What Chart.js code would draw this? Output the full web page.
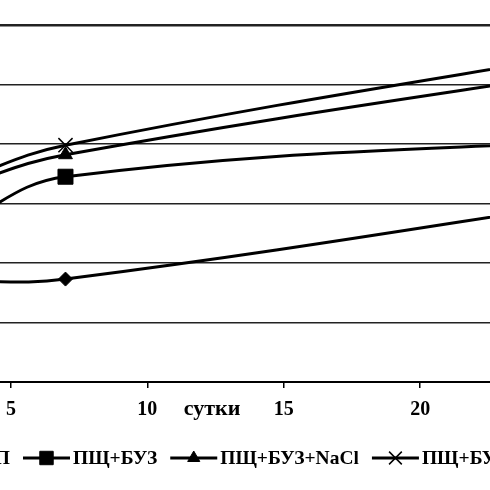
<!DOCTYPE html>
<html><head><meta charset="utf-8">
<script src="https://cdn.jsdelivr.net/npm/chart.js@4.4.0/dist/chart.umd.min.js"></script>
<style>html,body{margin:0;padding:0;background:#fff;overflow:hidden}#wrap{position:relative;width:490px;height:490px;background:#fff}</style>
</head><body><div id="wrap"><canvas id="c" width="490" height="490"></canvas></div>
<script>
// ---- data ----
const days = [3, 7, 30];
const seriesLabels = ['ПП', 'ПЩ+БУЗ', 'ПЩ+БУЗ+NaCl', 'ПЩ+БУЗ+KCl'];
const seriesPP = [16.9, 17.3, 32.9];
const seriesBUZ = [26.2, 34.5, 41.5];
const seriesNaCl = [32.7, 38.2, 55.0];
const seriesKCl = [33.6, 39.8, 58.3];
const xTicks = [5, 10, 15, 20];
const xTitle = 'сутки';

const FONT = 'Liberation Serif, Times New Roman, serif';
const styles = [
  {pointStyle: 'rectRot', r: 7, lr: 6.5, bw: 1},
  {pointStyle: 'rect', r: 10.6, lr: 9.5, bw: 1},
  {pointStyle: 'triangle', r: 8, lr: 7, bw: 1},
  {pointStyle: 'crossRot', r: 10, lr: 9, bw: 1.5}
];
const allSeries = [seriesPP, seriesBUZ, seriesNaCl, seriesKCl];

const datasets = allSeries.map((s, i) => ({
  label: seriesLabels[i],
  data: days.map((d, j) => ({x: d, y: s[j]})),
  borderColor: '#000',
  backgroundColor: '#000',
  borderWidth: 3,
  tension: 0.4,
  pointStyle: styles[i].pointStyle,
  pointRadius: styles[i].r,
  pointBorderWidth: styles[i].bw,
  pointBackgroundColor: '#000',
  pointBorderColor: '#000'
}));

function drawMarker(ctx, style, r, x, y, bw) {
  ctx.save();
  ctx.fillStyle = '#000'; ctx.strokeStyle = '#000'; ctx.lineWidth = bw;
  ctx.beginPath();
  if (style === 'rect') {
    const s = Math.SQRT1_2 * r;
    ctx.rect(x - s, y - s, 2 * s, 2 * s); ctx.fill(); ctx.stroke();
  } else if (style === 'rectRot') {
    ctx.moveTo(x - r, y); ctx.lineTo(x, y - r); ctx.lineTo(x + r, y); ctx.lineTo(x, y + r); ctx.closePath(); ctx.fill(); ctx.stroke();
  } else if (style === 'triangle') {
    for (let k = 0; k < 3; k++) {
      const a = k * 2 * Math.PI / 3;
      const px = x + Math.sin(a) * r, py = y - Math.cos(a) * r;
      if (k === 0) ctx.moveTo(px, py); else ctx.lineTo(px, py);
    }
    ctx.closePath(); ctx.fill(); ctx.stroke();
  } else if (style === 'crossRot') {
    const o = Math.SQRT1_2 * r;
    ctx.moveTo(x - o, y - o); ctx.lineTo(x + o, y + o);
    ctx.moveTo(x - o, y + o); ctx.lineTo(x + o, y - o); ctx.stroke();
  }
  ctx.restore();
}

const extras = {
  id: 'extras',
  afterDraw(chart) {
    const ctx = chart.ctx;
    const xs = chart.scales.x;
    ctx.save();
    // axis title
    ctx.font = 'bold 22px ' + FONT;
    ctx.fillStyle = '#000';
    ctx.textAlign = 'center';
    ctx.textBaseline = 'alphabetic';
    ctx.fillText(xTitle, xs.getPixelForValue(12.37), 415);
    // legend
    ctx.font = 'bold 19.5px ' + FONT;
    ctx.textAlign = 'left';
    const lineLen = 47, gapLT = 3, gapTL = 13, ly = 458, ty = 464;
    const w0 = ctx.measureText(seriesLabels[0]).width;
    let x = 23 - gapTL - w0 - gapLT - lineLen;
    seriesLabels.forEach((lab, i) => {
      ctx.strokeStyle = '#000'; ctx.lineWidth = 3;
      ctx.beginPath(); ctx.moveTo(x, ly); ctx.lineTo(x + lineLen, ly); ctx.stroke();
      drawMarker(ctx, styles[i].pointStyle, styles[i].lr, x + lineLen / 2, ly, styles[i].bw);
      ctx.fillStyle = '#000';
      ctx.fillText(lab, x + lineLen + gapLT, ty);
      x += lineLen + gapLT + ctx.measureText(lab).width + gapTL;
    });
    ctx.restore();
  }
};

new Chart(document.getElementById('c'), {
  type: 'line',
  data: {datasets},
  plugins: [extras],
  options: {
    responsive: false,
    animation: false,
    devicePixelRatio: 1,
    layout: {padding: {top: 25, left: 0, right: 0, bottom: 0}, autoPadding: false},
    elements: {line: {capBezierPoints: false}},
    plugins: {legend: {display: false}, tooltip: {enabled: false}},
    scales: {
      x: {
        type: 'linear', min: 4.6, max: 22.56,
        afterBuildTicks: (s) => { s.ticks = xTicks.map(v => ({value: v})); },
        afterFit: (s) => { s.height = 108; s.paddingLeft = 0; s.paddingRight = 0; s.paddingTop = 0; s.paddingBottom = 0; },
        grid: {drawOnChartArea: false, drawTicks: true, tickLength: 6, color: '#000', lineWidth: 1.5},
        border: {display: true, color: '#000', width: 2},
        ticks: {font: {family: FONT, size: 20, weight: 'bold'}, color: '#000', padding: 10, maxRotation: 0, autoSkip: false}
      },
      y: {
        type: 'linear', min: 0, max: 60,
        afterFit: (s) => { s.width = 0; s.paddingTop = 0; s.paddingBottom = 0; },
        ticks: {display: false, stepSize: 10},
        grid: {drawTicks: false, color: '#222', lineWidth: (c) => (c.tick && c.tick.value === 60 ? 2.5 : 1.5)},
        border: {display: false}
      }
    }
  }
});
</script></body></html>
